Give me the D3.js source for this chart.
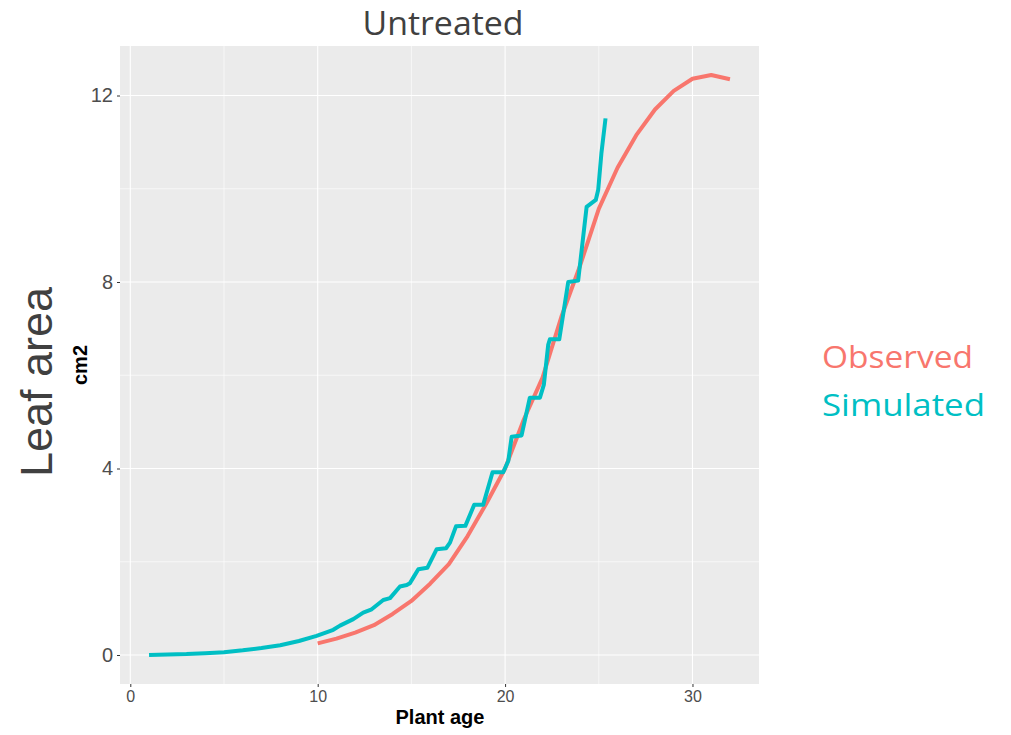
<!DOCTYPE html>
<html>
<head>
<meta charset="utf-8">
<script src="https://cdn.jsdelivr.net/npm/d3@7"></script>
<style>
  body { margin: 0; background: #fff; }
  svg { display: block; }
</style>
</head>
<body>
<svg id="chart"></svg>
<script>
const width = 1011
const height = 735

// observed leaf area, one value per day
const obsDays = [10, 11, 12, 13, 14, 15, 16, 17, 18, 19, 20, 21, 22, 23, 24, 25, 26, 27, 28, 29, 30, 31, 32]
const obsArea = [0.25, 0.35, 0.48, 0.64, 0.88, 1.16, 1.53, 1.95, 2.55, 3.25, 4.0, 5.05, 5.95, 7.25, 8.35, 9.57, 10.45, 11.15, 11.7, 12.1, 12.36, 12.44, 12.35]

// simulated leaf area (model output, stepwise)
const simDays = [1.0, 2, 3, 4, 5, 6, 7, 8, 9, 9.94, 10.5, 10.83, 11.19, 11.9, 12.43, 12.88, 13.5, 13.86, 14.39, 14.75, 14.92, 15.1, 15.37, 15.85, 16.35, 16.85, 17.06, 17.38, 17.88, 18.35, 18.83, 19.33, 19.9, 20.17, 20.35, 20.88, 21.32, 21.86, 22.07, 22.3, 22.39, 22.89, 23.37, 23.9, 24.35, 24.84, 24.97, 25.14, 25.36]
const simArea = [0.0, 0.01, 0.02, 0.04, 0.06, 0.1, 0.15, 0.21, 0.3, 0.41, 0.49, 0.54, 0.63, 0.77, 0.91, 0.98, 1.18, 1.22, 1.47, 1.5, 1.54, 1.66, 1.84, 1.87, 2.27, 2.29, 2.41, 2.76, 2.77, 3.22, 3.22, 3.92, 3.92, 4.16, 4.68, 4.71, 5.52, 5.52, 5.8, 6.65, 6.77, 6.77, 8.0, 8.03, 9.61, 9.76, 9.98, 10.76, 11.51]

const xTicks = [0, 10, 20, 30]
const yTicks = [0, 4, 8, 12]
const seriesNames = ["Observed", "Simulated"]
const seriesColors = ["#F8766D", "#00BFC4"]

const panel = { left: 120, right: 759, top: 46, bottom: 684 }

const observed = obsDays.map((d, i) => ({ x: d, y: obsArea[i] }))
const simulated = simDays.map((d, i) => ({ x: d, y: simArea[i] }))
const all = observed.concat(simulated)

// ggplot-style 5% expansion
const expand = ext => {
  const pad = (ext[1] - ext[0]) * 0.05
  return [ext[0] - pad, ext[1] + pad]
}

const x = d3.scaleLinear()
  .domain(expand(d3.extent(all, d => d.x)))
  .range([panel.left, panel.right])
const y = d3.scaleLinear()
  .domain(expand(d3.extent(all, d => d.y)))
  .range([panel.bottom, panel.top])

const svg = d3.select('#chart')
  .attr('width', width)
  .attr('height', height)

svg.append('rect')
  .attr('x', panel.left)
  .attr('y', panel.top)
  .attr('width', panel.right - panel.left)
  .attr('height', panel.bottom - panel.top)
  .attr('fill', '#EBEBEB')

// minor grid halfway between majors
const minorX = xTicks.map(t => t + 5).filter(t => x(t) < panel.right)
const minorY = yTicks.slice(0, -1).map(t => t + 2)

const grid = svg.append('g')
grid.selectAll('.mx').data(minorX).join('line')
  .attr('x1', d => x(d)).attr('x2', d => x(d))
  .attr('y1', panel.top).attr('y2', panel.bottom)
  .attr('stroke', '#fff').attr('stroke-width', 0.6)
grid.selectAll('.my').data(minorY).join('line')
  .attr('y1', d => y(d)).attr('y2', d => y(d))
  .attr('x1', panel.left).attr('x2', panel.right)
  .attr('stroke', '#fff').attr('stroke-width', 0.6)
grid.selectAll('.Mx').data(xTicks).join('line')
  .attr('x1', d => x(d)).attr('x2', d => x(d))
  .attr('y1', panel.top).attr('y2', panel.bottom)
  .attr('stroke', '#fff').attr('stroke-width', 1.1)
grid.selectAll('.My').data(yTicks).join('line')
  .attr('y1', d => y(d)).attr('y2', d => y(d))
  .attr('x1', panel.left).attr('x2', panel.right)
  .attr('stroke', '#fff').attr('stroke-width', 1.1)

// axes
const xAxis = svg.append('g')
  .attr('transform', `translate(0,${panel.bottom})`)
  .call(d3.axisBottom(x).tickValues(xTicks).tickSize(3).tickPadding(4).tickSizeOuter(0))
xAxis.select('.domain').remove()
xAxis.selectAll('line').attr('stroke', '#333')
xAxis.selectAll('text')
  .attr('fill', '#4D4D4D')
  .style('font-family', 'Liberation Sans, Arial, sans-serif')
  .style('font-size', '16px')

const yAxis = svg.append('g')
  .attr('transform', `translate(${panel.left},0)`)
  .call(d3.axisLeft(y).tickValues(yTicks).tickSize(3).tickPadding(4).tickSizeOuter(0))
yAxis.select('.domain').remove()
yAxis.selectAll('line').attr('stroke', '#333')
yAxis.selectAll('text')
  .attr('fill', '#4D4D4D')
  .style('font-family', 'Liberation Sans, Arial, sans-serif')
  .style('font-size', '20px')

// lines
const line = d3.line().x(d => x(d.x)).y(d => y(d.y))
const series = [observed, simulated]
svg.append('g').selectAll('path').data(series).join('path')
  .attr('d', line)
  .attr('fill', 'none')
  .attr('stroke', (d, i) => seriesColors[i])
  .attr('stroke-width', 4)
  .attr('stroke-linejoin', 'round')

// title
svg.append('text')
  .attr('x', 443)
  .attr('y', 35)
  .attr('text-anchor', 'middle')
  .attr('fill', '#404040')
  .style('font-family', 'Open Sans, sans-serif')
  .style('font-size', '32px')
  .attr('textLength', 161)
  .attr('lengthAdjust', 'spacingAndGlyphs')
  .text('Untreated')

// axis titles
svg.append('text')
  .attr('transform', 'translate(52,382) rotate(-90)')
  .attr('text-anchor', 'middle')
  .attr('fill', '#404040')
  .style('font-family', 'Liberation Sans, Arial, sans-serif')
  .style('font-size', '45px')
  .text('Leaf area')

svg.append('text')
  .attr('transform', 'translate(87,365) rotate(-90)')
  .attr('text-anchor', 'middle')
  .attr('fill', '#000')
  .style('font-family', 'Liberation Sans, Arial, sans-serif')
  .style('font-weight', 'bold')
  .style('font-size', '20px')
  .text('cm2')

svg.append('text')
  .attr('x', 440)
  .attr('y', 724)
  .attr('text-anchor', 'middle')
  .attr('fill', '#000')
  .style('font-family', 'Liberation Sans, Arial, sans-serif')
  .style('font-weight', 'bold')
  .style('font-size', '20px')
  .text('Plant age')

// legend (labels only, coloured)
const legendWidths = [151, 163]
svg.append('g').selectAll('text').data(seriesNames).join('text')
  .attr('x', 822)
  .attr('y', (d, i) => 368 + i * 48)
  .attr('fill', (d, i) => seriesColors[i])
  .style('font-family', 'Open Sans, sans-serif')
  .style('font-size', '31px')
  .attr('textLength', (d, i) => legendWidths[i])
  .attr('lengthAdjust', 'spacingAndGlyphs')
  .text(d => d)
</script>
</body>
</html>
